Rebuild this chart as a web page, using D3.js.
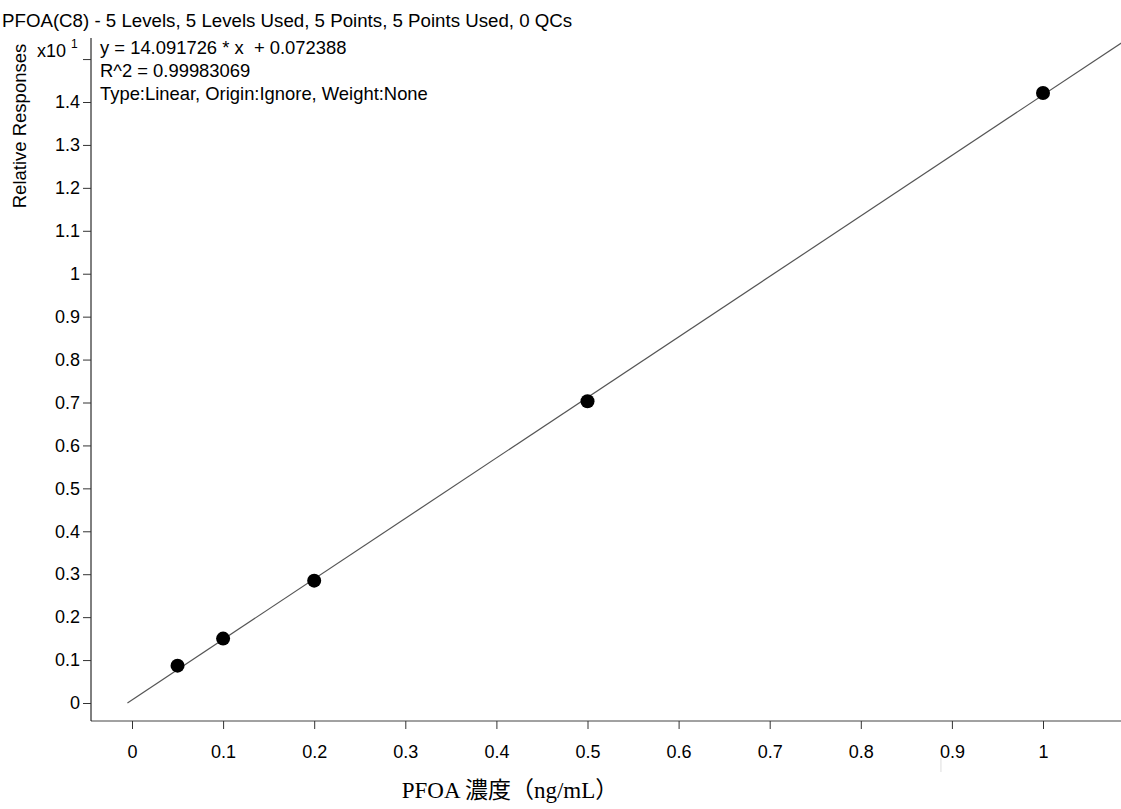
<!DOCTYPE html>
<html>
<head>
<meta charset="utf-8">
<script src="https://cdn.jsdelivr.net/npm/d3@7"></script>
<style>
  body { margin: 0; background: #fff; }
  text { font-family: "Liberation Sans", Arial, sans-serif; fill: #000; }
</style>
</head>
<body>
<div id="chart"></div>
<script>
// calibration points (x = ng/mL, y = response in x10^1)
var concs = [0.05, 0.1, 0.2, 0.5, 1.0];
var responses = [0.087, 0.150, 0.285, 0.703, 1.421];
var xTicks = [0, 0.1, 0.2, 0.3, 0.4, 0.5, 0.6, 0.7, 0.8, 0.9, 1];
var yTicks = [0, 0.1, 0.2, 0.3, 0.4, 0.5, 0.6, 0.7, 0.8, 0.9, 1, 1.1, 1.2, 1.3, 1.4];
var slope = 14.091726, intercept = 0.072388;
var fitRange = [-0.005, 1.09];
var infoLines = ["y = 14.091726 * x  + 0.072388", "R^2 = 0.99983069", "Type:Linear, Origin:Ignore, Weight:None"];

var W = 1121, H = 809;
var svg = d3.select("#chart").append("svg").attr("width", W).attr("height", H);

var x = d3.scaleLinear().domain([0, 1]).range([132, 1043]);
var y = d3.scaleLinear().domain([0, 1.4]).range([703, 102]);

// axes
svg.append("g")
    .attr("transform", "translate(0,721)")
    .call(d3.axisBottom(x).tickValues(xTicks).tickSize(8).tickSizeOuter(0).tickFormat(d3.format("")))
    .call(function(g) {
        g.select(".domain").attr("d", "M91,0H1121").attr("stroke", "#444");
        g.selectAll(".tick line").attr("stroke", "#333");
        g.selectAll("text").attr("font-size", 18).attr("y", 24).attr("dy", "0.71em");
    });

svg.append("g")
    .attr("transform", "translate(91,0)")
    .call(d3.axisLeft(y).tickValues(yTicks.concat([1.5])).tickSize(8).tickSizeOuter(0).tickFormat(function(d) {
        return d === 1.5 ? "" : d3.format("")(d);
    }))
    .call(function(g) {
        g.select(".domain").attr("d", "M0,38V721").attr("stroke", "#000");
        g.selectAll(".tick line").attr("stroke", "#333");
        g.selectAll("text").attr("font-size", 18);
    });

// stray mark below the 0.9 label
svg.append("line")
    .attr("x1", x(0.888)).attr("x2", x(0.888))
    .attr("y1", 758).attr("y2", 772)
    .attr("stroke", "#ddd").attr("stroke-width", 1);

// fit line
svg.append("line")
    .attr("x1", x(fitRange[0])).attr("y1", y((slope * fitRange[0] + intercept) / 10))
    .attr("x2", x(fitRange[1])).attr("y2", y((slope * fitRange[1] + intercept) / 10))
    .attr("stroke", "#555").attr("stroke-width", 1.2);

// points
svg.selectAll(".pt")
    .data(concs)
    .enter().append("ellipse")
    .attr("class", "pt")
    .attr("cx", function(d) { return x(d); })
    .attr("cy", function(d, i) { return y(responses[i]); })
    .attr("rx", 7).attr("ry", 7)
    .attr("fill", "#000");

// texts
svg.append("text").attr("x", 2).attr("y", 27).attr("font-size", 18.7)
    .text("PFOA(C8) - 5 Levels, 5 Levels Used, 5 Points, 5 Points Used, 0 QCs");

svg.selectAll(".info")
    .data(infoLines)
    .enter().append("text")
    .attr("class", "info")
    .attr("x", 100)
    .attr("y", function(d, i) { return 54 + i * 23; })
    .attr("font-size", 18.4)
    .style("white-space", "pre")
    .text(function(d) { return d; });

var mult = svg.append("text").attr("x", 37).attr("y", 57).attr("font-size", 18);
mult.append("tspan").text("x10 ");
mult.append("tspan").attr("dy", -9).attr("font-size", 12).text("1");

svg.append("text")
    .attr("transform", "translate(26,126) rotate(-90)")
    .attr("text-anchor", "middle")
    .attr("font-size", 18.5)
    .text("Relative Responses");

svg.append("text")
    .attr("x", 510).attr("y", 798)
    .attr("text-anchor", "middle")
    .attr("font-size", 23)
    .style("font-family", "'Liberation Serif', 'Noto Sans CJK JP', serif")
    .text("PFOA 濃度（ng/mL）");
</script>
</body>
</html>
